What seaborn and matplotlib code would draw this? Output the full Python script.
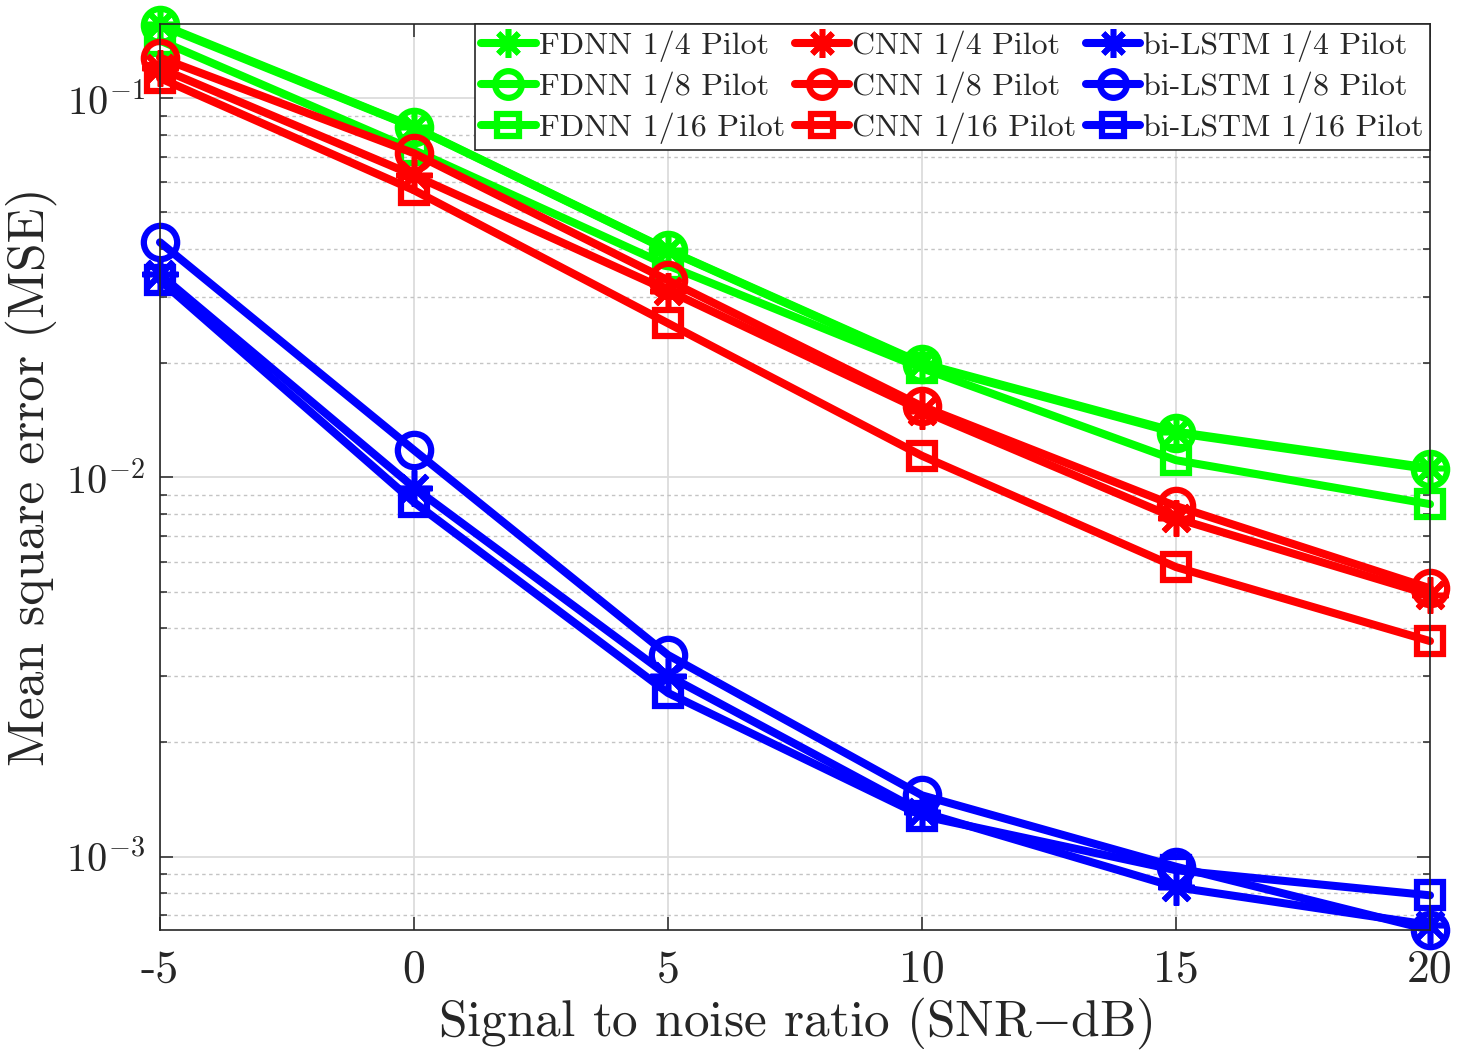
import numpy as np
import pandas as pd
import matplotlib
matplotlib.use('Agg')
import matplotlib.pyplot as plt
import seaborn as sns
from matplotlib.ticker import LogLocator, LogFormatterMathtext, NullFormatter, FixedLocator

snr = [-5, 0, 5, 10, 15, 20]
snr_labels = ['-5', '0', '5', '10', '15', '20']

fdnn_4 = [0.157, 0.0840, 0.0398, 0.0200, 0.0132, 0.0106]
fdnn_8 = [0.156, 0.0838, 0.0397, 0.0199, 0.0131, 0.0105]
fdnn_16 = [0.142, 0.0730, 0.0362, 0.0194, 0.0111, 0.0085]
cnn_4 = [0.120, 0.0626, 0.0311, 0.0150, 0.0078, 0.0049]
cnn_8 = [0.128, 0.0716, 0.0331, 0.0154, 0.0084, 0.0051]
cnn_16 = [0.113, 0.0572, 0.0255, 0.0114, 0.0058, 0.0037]
lstm_4 = [0.0343, 0.0094, 0.0030, 0.00131, 0.00083, 0.00066]
lstm_8 = [0.0417, 0.0118, 0.0034, 0.00145, 0.00094, 0.00064]
lstm_16 = [0.0331, 0.0086, 0.0027, 0.00128, 0.00092, 0.00079]

models = ['FDNN', 'CNN', 'bi-LSTM']
model_colors = {'FDNN': '#00ff00', 'CNN': '#ff0000', 'bi-LSTM': '#0000ff'}
pilots = ['1/4', '1/8', '1/16']
series = {
    'FDNN': [fdnn_4, fdnn_8, fdnn_16],
    'CNN': [cnn_4, cnn_8, cnn_16],
    'bi-LSTM': [lstm_4, lstm_8, lstm_16],
}

sns.set_style('ticks')
plt.rcParams['font.family'] = ['cmr10', 'DejaVu Serif']
plt.rcParams['mathtext.fontset'] = 'cm'
plt.rcParams['axes.formatter.use_mathtext'] = True
plt.rcParams['axes.unicode_minus'] = False

dark = '#262626'

fig = plt.figure(figsize=(14.64, 10.6), dpi=100)
ax = fig.add_axes([160 / 1464, 1 - 930 / 1060, 1270 / 1464, 906 / 1060])

# marker style per pilot density
mstyle = {
    '1/4': dict(marker=(8, 2, 0), markersize=26, markeredgewidth=4),
    '1/8': dict(marker='o', markersize=24, markeredgewidth=4.5, markerfacecolor='none'),
    '1/16': dict(marker='s', markersize=19, markeredgewidth=4.5, markerfacecolor='none'),
}

for m in models:
    for p, vals in zip(pilots, series[m]):
        sns.lineplot(x=snr, y=vals, ax=ax, color=model_colors[m], linewidth=5.8,
                     markeredgecolor=model_colors[m], clip_on=False,
                     label=f'{m} {p} Pilot', legend=False, **mstyle[p])

ax.set_yscale('log')
ax.set_xlim(-5, 20)
ax.set_ylim(6.4e-4, 0.157)
ax.xaxis.set_major_locator(FixedLocator(snr))
ax.set_xticklabels(snr_labels)
ax.yaxis.set_major_locator(LogLocator(base=10))
ax.yaxis.set_minor_locator(LogLocator(base=10, subs=np.arange(2, 10)))
ax.yaxis.set_major_formatter(LogFormatterMathtext())
ax.yaxis.set_minor_formatter(NullFormatter())

ax.grid(True, which='major', color='#dcdcdc', linewidth=1.3, linestyle='-')
ax.grid(True, which='minor', axis='y', color='#c4c4c4', linewidth=1.0, linestyle=(0, (2.5, 2.5)))
ax.set_axisbelow(True)

ax.tick_params(which='both', direction='in', top=True, right=True, colors=dark, width=1.1)
ax.tick_params(which='major', length=9.5)
ax.tick_params(which='minor', length=5)
ax.tick_params(axis='x', labelsize=33, pad=14)
ax.tick_params(axis='y', labelsize=29, pad=11)
for s in ax.spines.values():
    s.set_color(dark)
    s.set_linewidth(1.2)

ax.set_xlabel(r'Signal to noise ratio (SNR$-$dB)', fontsize=37, color=dark, labelpad=3)
ax.set_ylabel('Mean square error (MSE)', fontsize=37, color=dark)
ax.yaxis.set_label_coords(-0.081, 0.5)

leg = ax.legend(ncol=3, loc='upper right', fontsize=23, frameon=True, fancybox=False,
                edgecolor=dark, framealpha=1, borderaxespad=0, handlelength=1.7,
                handletextpad=0.1, columnspacing=0.3, borderpad=0.2, labelspacing=0.3,
                markerscale=0.8)
leg.get_frame().set_linewidth(1.2)

fig.savefig('out.png', dpi=100)
